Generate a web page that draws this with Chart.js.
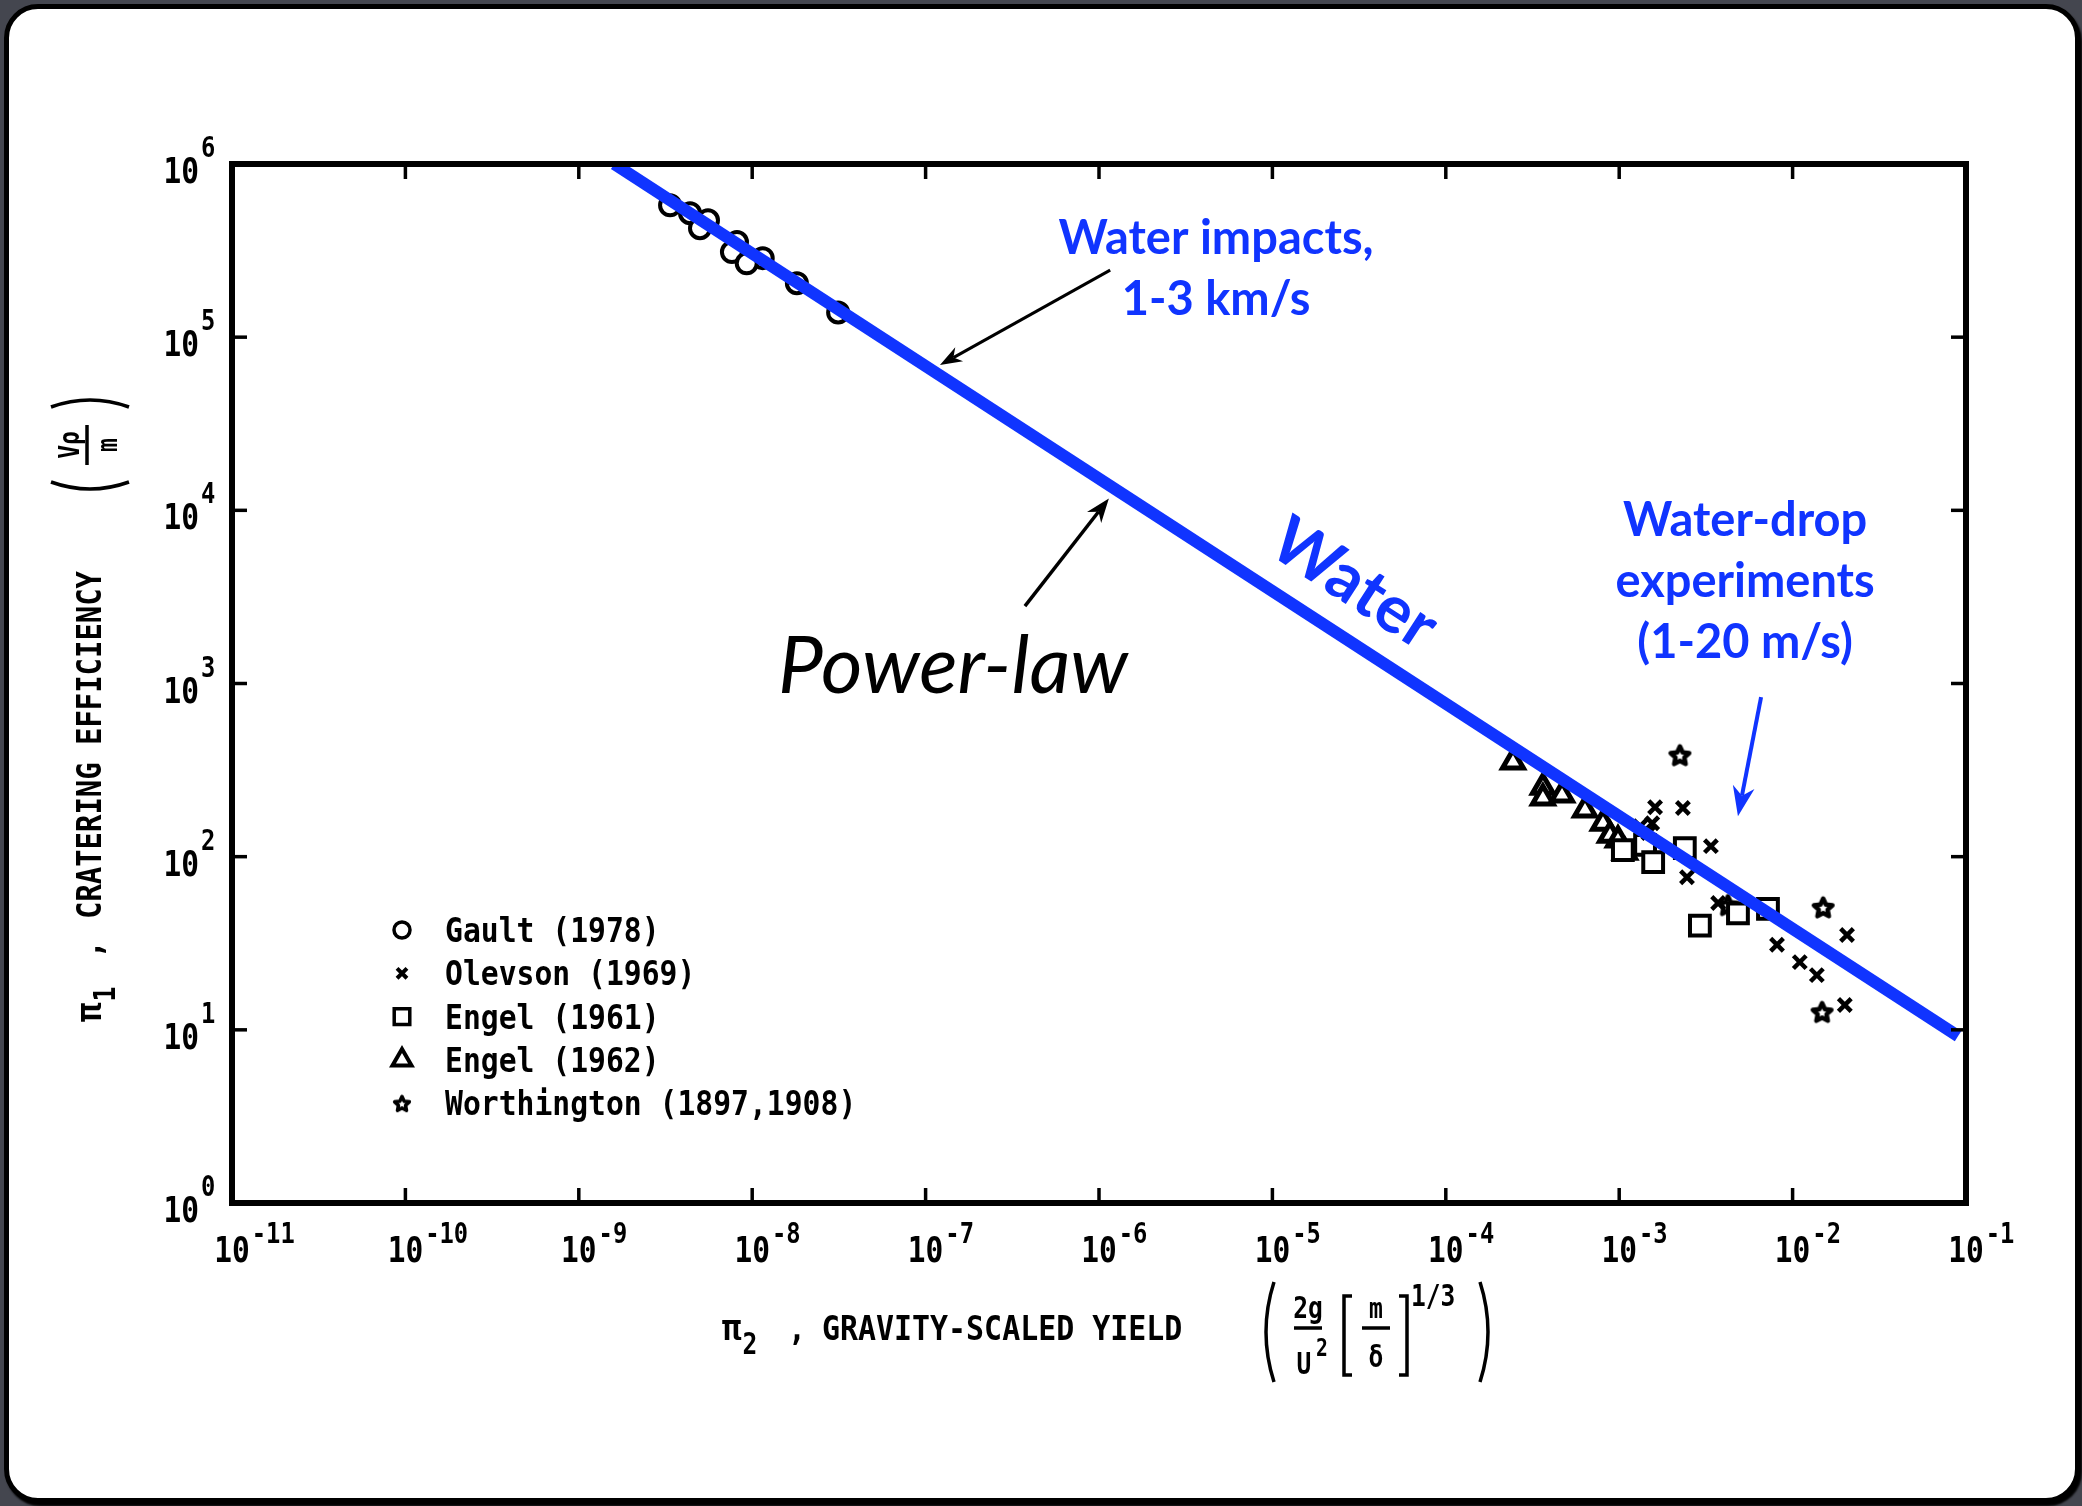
<!DOCTYPE html>
<html>
<head>
<meta charset="utf-8">
<title>Cratering efficiency vs gravity-scaled yield</title>
<script src="https://cdn.jsdelivr.net/npm/chart.js@4.4.0/dist/chart.umd.min.js"></script>
<style>
  html, body { margin: 0; padding: 0; background: #44464f; overflow: hidden; }
  #panel {
    position: absolute; left: 4px; top: 4px;
    width: 2066px; height: 1489px;
    background: #fff; border: 5px solid #000; border-radius: 34px;
    box-shadow: 2px 3px 2px #000;
  }
  #wrap { position: absolute; left: 0; top: 0; width: 2082px; height: 1506px; }
</style>
</head>
<body>
<div id="panel"></div>
<div id="wrap"><canvas id="chart" width="2082" height="1506"></canvas></div>
<script>
// axis decades (exponents of ten)
const xDecades = [-11, -10, -9, -8, -7, -6, -5, -4, -3, -2, -1];
const yDecades = [0, 1, 2, 3, 4, 5, 6];

// power-law fit for water
const waterX = [1.6e-9, 0.09];
const waterY = [1e6, 9.2];

// Gault (1978)
const gaultX = [3.36e-9, 4.38e-9, 5.56e-9, 5.0e-9, 8.17e-9, 7.64e-9, 1.15e-8, 9.3e-9, 1.81e-8, 3.13e-8];
const gaultY = [5.78e5, 5.2e5, 4.73e5, 4.26e5, 3.54e5, 3.1e5, 2.86e5, 2.67e5, 2.05e5, 1.39e5];

// Olevson (1969)
const olevsonX = [1.32e-3, 1.47e-3, 1.55e-3, 1.61e-3, 2.33e-3, 2.46e-3, 3.38e-3, 3.72e-3, 8.13e-3, 1.1e-2, 1.38e-2, 2.0e-2, 2.06e-2];
const olevsonY = [150, 137, 156, 193, 191, 76, 115, 54, 31, 24.6, 20.7, 13.9, 35.3];

// Engel (1961)
const engel61X = [1.05e-3, 1.41e-3, 1.57e-3, 2.39e-3, 2.92e-3, 4.84e-3, 7.21e-3];
const engel61Y = [109, 117, 93, 112, 40, 47, 50];

// Engel (1962)
const engel62X = [2.44e-4, 3.63e-4, 3.63e-4, 4.68e-4, 6.35e-4, 8.06e-4, 8.85e-4, 9.84e-4, 1.08e-3];
const engel62Y = [352, 252, 218, 227, 186, 156, 133, 125, 106];

// Worthington (1897, 1908)
const worthX = [2.24e-3, 4.24e-3, 1.48e-2, 1.5e-2];
const worthY = [386, 52.6, 12.7, 51];

const legendNames = ['Gault (1978)', 'Olevson (1969)', 'Engel (1961)', 'Engel (1962)', 'Worthington (1897,1908)'];

const BLUE = '#1034ff';

function pts(xs, ys) { return xs.map((x, i) => ({ x: x, y: ys[i] })); }

// five-pointed star marker
function makeStar(size, lw) {
  const c = document.createElement('canvas');
  c.width = c.height = size;
  const g = c.getContext('2d');
  const cx = size / 2, cy = size / 2 + 1;
  const ro = size / 2 - lw / 2 - 0.5, ri = ro * 0.48;
  g.beginPath();
  for (let i = 0; i < 10; i++) {
    const r = i % 2 ? ri : ro;
    const a = -Math.PI / 2 + i * Math.PI / 5;
    g.lineTo(cx + r * Math.cos(a), cy + r * Math.sin(a));
  }
  g.closePath();
  g.fillStyle = '#fff';
  g.fill();
  g.lineJoin = 'round';
  g.lineWidth = lw;
  g.strokeStyle = '#000';
  g.stroke();
  return c;
}
const starImg = makeStar(25, 4.5);
const starSmall = makeStar(20, 3.5);

const markers = [
  { pointStyle: 'circle', radius: 10, borderWidth: 4 },
  { pointStyle: 'crossRot', radius: 9, borderWidth: 4.5 },
  { pointStyle: 'rect', radius: 14, borderWidth: 4 },
  { pointStyle: 'triangle', radius: 12, borderWidth: 5 },
  { pointStyle: starImg, radius: 12, borderWidth: 0 }
];
const legendMarkers = [
  { pointStyle: 'circle', radius: 8, borderWidth: 3.5 },
  { pointStyle: 'crossRot', radius: 7, borderWidth: 4 },
  { pointStyle: 'rect', radius: 11, borderWidth: 3.5 },
  { pointStyle: 'triangle', radius: 11, borderWidth: 4 },
  { pointStyle: starSmall, radius: 10, borderWidth: 0 }
];

function scatterSet(label, xs, ys, m) {
  return {
    label: label,
    data: pts(xs, ys),
    pointStyle: m.pointStyle,
    pointRadius: m.radius,
    pointBorderWidth: m.borderWidth,
    pointBorderColor: '#000',
    pointBackgroundColor: '#fff',
    showLine: false
  };
}

// condensed typewriter-style text
function mono(ctx, str, x, y, size, align, hs) {
  hs = hs || 0.86;
  ctx.save();
  ctx.font = 'bold ' + size + 'px "DejaVu Sans Mono"';
  const w = ctx.measureText(str).width * hs;
  let left = x;
  if (align === 'center') left = x - w / 2;
  else if (align === 'right') left = x - w;
  ctx.translate(left, y);
  ctx.scale(hs, 1);
  ctx.textAlign = 'left';
  ctx.textBaseline = 'alphabetic';
  ctx.fillText(str, 0, 0);
  ctx.restore();
  return w;
}

function line(ctx, x1, y1, x2, y2) {
  ctx.beginPath();
  ctx.moveTo(x1, y1);
  ctx.lineTo(x2, y2);
  ctx.stroke();
}

function arrow(ctx, x1, y1, x2, y2, color, width, headLen, headW) {
  const ang = Math.atan2(y2 - y1, x2 - x1);
  const c = Math.cos(ang), s = Math.sin(ang);
  const bx = x2 - headLen * c, by = y2 - headLen * s;
  const nx = x2 - headLen * 0.7 * c, ny = y2 - headLen * 0.7 * s;
  ctx.save();
  ctx.strokeStyle = color;
  ctx.fillStyle = color;
  ctx.lineWidth = width;
  line(ctx, x1, y1, nx, ny);
  ctx.beginPath();
  ctx.moveTo(x2, y2);
  ctx.lineTo(bx + headW / 2 * s, by - headW / 2 * c);
  ctx.lineTo(nx, ny);
  ctx.lineTo(bx - headW / 2 * s, by + headW / 2 * c);
  ctx.closePath();
  ctx.fill();
  ctx.restore();
}

// left/right parenthesis as a curve
function paren(ctx, x, y1, y2, bulge) {
  ctx.beginPath();
  ctx.moveTo(x + bulge, y1);
  ctx.quadraticCurveTo(x - bulge, (y1 + y2) / 2, x + bulge, y2);
  ctx.stroke();
}

const framePlugin = {
  id: 'frame',
  afterDatasetsDraw(chart) {
    const ctx = chart.ctx;
    const xs = chart.scales.x, ys = chart.scales.y;
    const a = chart.chartArea;
    const P = (x, y) => ({ x: xs.getPixelForValue(x), y: ys.getPixelForValue(y) });

    ctx.save();
    ctx.strokeStyle = '#000';
    ctx.fillStyle = '#000';

    // plot frame with inward ticks on all sides
    ctx.lineWidth = 6;
    ctx.strokeRect(a.left, a.top, a.right - a.left, a.bottom - a.top);
    ctx.lineWidth = 3.5;
    xDecades.forEach(e => {
      const px = xs.getPixelForValue(Math.pow(10, e));
      line(ctx, px, a.bottom, px, a.bottom - 15);
      line(ctx, px, a.top, px, a.top + 15);
    });
    yDecades.forEach(e => {
      const py = ys.getPixelForValue(Math.pow(10, e));
      line(ctx, a.left, py, a.left + 15, py);
      line(ctx, a.right, py, a.right - 15, py);
    });

    // tick labels 10^n
    xDecades.forEach(e => {
      const px = xs.getPixelForValue(Math.pow(10, e));
      const w = mono(ctx, '10', px, a.bottom + 59, 36, 'center', 0.82);
      mono(ctx, String(e), px + w / 2 + 2, a.bottom + 40, 29, 'left', 0.82);
    });
    yDecades.forEach(e => {
      const py = ys.getPixelForValue(Math.pow(10, e));
      mono(ctx, '10', a.left - 33, py + 19, 36, 'right', 0.82);
      mono(ctx, String(e), a.left - 31, py - 7, 29, 'left', 0.82);
    });

    // x axis title
    let x0 = 722;
    const tb = a.bottom + 137;
    let w = mono(ctx, 'π', x0, tb, 36, 'left', 0.9);
    mono(ctx, '2', x0 + w + 1, tb + 14, 30, 'left', 0.82);
    mono(ctx, ',', 788, tb, 34, 'left', 0.88);
    mono(ctx, 'GRAVITY-SCALED YIELD', 822, tb, 34, 'left', 0.88);

    // ( 2g/U^2 [m/δ]^(1/3) )
    ctx.lineWidth = 3.5;
    paren(ctx, 1266, 1282, 1382, 8);
    paren(ctx, 1488, 1282, 1382, -8);
    mono(ctx, '2g', 1308, 1318, 30, 'center', 0.82);
    line(ctx, 1294, 1328, 1322, 1328);
    mono(ctx, 'U', 1304, 1374, 30, 'center', 0.82);
    mono(ctx, '2', 1316, 1356, 24, 'left', 0.82);
    ctx.lineWidth = 3.5;
    ctx.beginPath();
    ctx.moveTo(1352, 1296); ctx.lineTo(1344, 1296); ctx.lineTo(1344, 1375); ctx.lineTo(1352, 1375);
    ctx.stroke();
    ctx.beginPath();
    ctx.moveTo(1399, 1296); ctx.lineTo(1407, 1296); ctx.lineTo(1407, 1375); ctx.lineTo(1399, 1375);
    ctx.stroke();
    mono(ctx, 'm', 1376, 1318, 28, 'center', 0.82);
    line(ctx, 1362, 1328, 1390, 1328);
    mono(ctx, 'δ', 1376, 1367, 30, 'center', 0.82);
    mono(ctx, '1/3', 1411, 1306, 30, 'left', 0.82);

    // y axis title, rotated
    ctx.save();
    ctx.translate(101, 1022);
    ctx.rotate(-Math.PI / 2);
    w = mono(ctx, 'π', 0, 0, 36, 'left', 0.9);
    mono(ctx, '1', w + 1, 14, 30, 'left', 0.82);
    mono(ctx, ',', 64, 0, 34, 'left', 0.85);
    mono(ctx, 'CRATERING EFFICIENCY', 103, 0, 34, 'left', 0.85);
    // (Vρ/m)
    ctx.lineWidth = 3.5;
    paren(ctx, 533, -50, 28, 7);
    paren(ctx, 622, -50, 28, -7);
    mono(ctx, 'Vρ', 577, -22, 28, 'center', 0.82);
    line(ctx, 557, -14, 597, -14);
    mono(ctx, 'm', 577, 16, 28, 'center', 0.82);
    ctx.restore();

    // legend
    const lx = 402, tx = 445, ly0 = 930, dy = 43.3;
    legendNames.forEach((name, i) => {
      const y = ly0 + i * dy;
      const m = legendMarkers[i];
      ctx.save();
      ctx.strokeStyle = '#000';
      ctx.fillStyle = '#fff';
      ctx.lineWidth = m.borderWidth;
      Chart.helpers.drawPoint(ctx, { pointStyle: m.pointStyle, radius: m.radius, rotation: 0, borderWidth: m.borderWidth }, lx, y);
      ctx.restore();
      mono(ctx, name, tx, y + 12, 33, 'left', 0.9);
    });

    // annotations
    ctx.fillStyle = BLUE;
    ctx.textAlign = 'center';
    ctx.textBaseline = 'middle';
    ctx.font = 'bold 47px Lato';
    let p = P(4.73e-6, 3.68e5);
    ctx.fillText('Water impacts,', p.x, p.y);
    ctx.fillText('1-3 km/s', p.x, p.y + 61);

    p = P(5.32e-3, 8670);
    ctx.fillText('Water-drop', p.x, p.y);
    ctx.fillText('experiments', p.x, p.y + 61);
    ctx.fillText('(1-20 m/s)', p.x, p.y + 122);

    // label along the fit line
    const l1 = P(waterX[0], waterY[0]), l2 = P(waterX[1], waterY[1]);
    const ang = Math.atan2(l2.y - l1.y, l2.x - l1.x);
    p = P(2.96e-5, 3750);
    ctx.save();
    ctx.translate(p.x, p.y);
    ctx.rotate(ang);
    ctx.font = 'bold 66px Lato';
    ctx.fillText('Water', 0, 0);
    ctx.restore();

    p = P(1.44e-7, 1245);
    ctx.fillStyle = '#000';
    ctx.font = 'italic 80px Lato';
    ctx.fillText('Power-law', p.x, p.y);

    let t = P(1.16e-6, 2.44e5), h = P(1.21e-7, 6.9e4);
    arrow(ctx, t.x, t.y, h.x, h.y, '#000', 3, 22, 16);
    t = P(3.74e-7, 2.8e3); h = P(1.14e-6, 1.17e4);
    arrow(ctx, t.x, t.y, h.x, h.y, '#000', 3.5, 24, 18);
    t = P(6.58e-3, 834); h = P(4.84e-3, 171);
    arrow(ctx, t.x, t.y, h.x, h.y, BLUE, 4, 30, 22);

    ctx.restore();
  }
};

new Chart(document.getElementById('chart'), {
  type: 'scatter',
  data: {
    datasets: [
      {
        label: 'Water',
        data: pts(waterX, waterY),
        showLine: true,
        borderColor: BLUE,
        borderWidth: 12,
        borderCapStyle: 'butt',
        pointRadius: 0,
        fill: false
      },
      scatterSet(legendNames[0], gaultX, gaultY, markers[0]),
      scatterSet(legendNames[1], olevsonX, olevsonY, markers[1]),
      scatterSet(legendNames[2], engel61X, engel61Y, markers[2]),
      scatterSet(legendNames[3], engel62X, engel62Y, markers[3]),
      scatterSet(legendNames[4], worthX, worthY, markers[4])
    ]
  },
  options: {
    responsive: false,
    devicePixelRatio: 1,
    animation: false,
    events: [],
    layout: { padding: { left: 232, top: 164, right: 116, bottom: 303 } },
    plugins: { legend: { display: false }, tooltip: { enabled: false } },
    scales: {
      x: { type: 'logarithmic', min: 1e-11, max: 1e-1, display: false },
      y: { type: 'logarithmic', min: 1, max: 1e6, display: false }
    }
  },
  plugins: [framePlugin]
});
</script>
</body>
</html>
